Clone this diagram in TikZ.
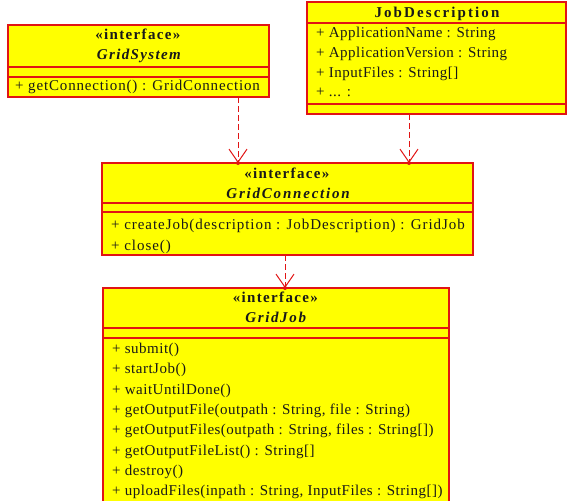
\documentclass[tikz,border=0pt]{standalone}
\usepackage{fontspec}
\setmainfont{Liberation Serif}
\usetikzlibrary{arrows.meta}
\definecolor{umlfill}{RGB}{255,255,0}
\definecolor{umlline}{RGB}{225,20,20}
\tikzset{
  box/.style={draw=umlline, fill=umlfill, line width=1.1pt},
  sep/.style={draw=umlline, line width=1.1pt},
  txt/.style={anchor=base west, inner sep=0pt, font=\fontsize{15}{16}\selectfont\addfontfeatures{LetterSpace=#1}, text=black!90},
  txt/.default=5,
  ctxt/.style={anchor=base, inner sep=0pt, font=\fontsize{15}{16}\selectfont\addfontfeatures{LetterSpace=9}, text=black!90},
  dep/.style={draw=umlline, line width=1pt, dash pattern=on 6pt off 3pt, -{Straight Barb[length=13pt,width=18pt,line width=1pt]}},
  tipdot/.style={fill=umlline, circle, inner sep=0pt, minimum size=4pt},
}
\begin{document}
\begin{tikzpicture}[x=1pt,y=-1pt]
\useasboundingbox (0,0) rectangle (572,500);
\clip (0,0) rectangle (572,500);
% GridSystem
\draw[box] (8,25) rectangle (269,97);
\draw[sep] (8,67) -- (269,67);
\draw[sep] (8,77) -- (269,77);
\node[ctxt] (gsst) at (138.5,40) {\textbf{«interface»}};
\node[ctxt] (gsname) at (139.5,60) {\textbf{\textit{GridSystem}}};
\node[txt=5.6] (gsm1) at (15,91) {+ getConnection() : GridConnection};
\coordinate (gsbot) at (238,97);
% JobDescription
\draw[box] (307,2) rectangle (566,114);
\draw[sep] (307,23) -- (566,23);
\draw[sep] (307,104) -- (566,104);
\node[ctxt] (jdname) at (438,18) {\addfontfeatures{LetterSpace=14}\textbf{JobDescription}};
\node[txt=3.3] (jda1) at (316,38) {+ ApplicationName : String};
\node[txt=3.3] (jda2) at (316,58) {+ ApplicationVersion : String};
\node[txt=3.3] (jda3) at (316,78) {+ InputFiles : String[]};
\node[txt=3.3] (jda4) at (316,97) {+ ... :};
\coordinate (jdbot) at (409,114);
% GridConnection
\draw[box] (102,163) rectangle (473,255);
\draw[sep] (102,203) -- (473,203);
\draw[sep] (102,212) -- (473,212);
\node[ctxt] (gcst) at (287.5,178) {\textbf{«interface»}};
\node[ctxt] (gcname) at (289,198) {\addfontfeatures{LetterSpace=12}\textbf{\textit{GridConnection}}};
\node[txt=6.3] (gcm1) at (111,229) {+ createJob(description : JobDescription) : GridJob};
\node[txt=6.3] (gcm2) at (111,250) {+ close()};
\coordinate (gctop1) at (238,163);
\coordinate (gctop2) at (409,163);
\coordinate (gcbot) at (285,255);
% GridJob
\draw[box] (103,288) rectangle (449,510);
\draw[sep] (103,328) -- (449,328);
\draw[sep] (103,338) -- (449,338);
\node[ctxt] (gjst) at (276,302) {\textbf{«interface»}};
\node[ctxt] (gjname) at (276.5,322) {\addfontfeatures{LetterSpace=11}\textbf{\textit{GridJob}}};
\node[txt=3.3] (gjm1) at (112,353) {+ submit()};
\node[txt=3.3] (gjm2) at (112,373.5) {+ startJob()};
\node[txt=3.3] (gjm3) at (112,394) {+ waitUntilDone()};
\node[txt=3.3] (gjm4) at (112,414) {+ getOutputFile(outpath : String, file : String)};
\node[txt=3.3] (gjm5) at (112,434.5) {+ getOutputFiles(outpath : String, files : String[])};
\node[txt=3.3] (gjm6) at (112,455) {+ getOutputFileList() : String[]};
\node[txt=3.3] (gjm7) at (112,475) {+ destroy()};
\node[txt=3.3] (gjm8) at (112,495.5) {+ uploadFiles(inpath : String, InputFiles : String[])};
\coordinate (gjtop) at (285,288);
% dependencies
\draw[dep] (gsbot) -- (gctop1);
\draw[dep] (jdbot) -- (gctop2);
\draw[dep] (gcbot) -- (gjtop);
\node[tipdot] at (gctop1) {};
\node[tipdot] at (gctop2) {};
\node[tipdot] at (gjtop) {};
\end{tikzpicture}
\end{document}
